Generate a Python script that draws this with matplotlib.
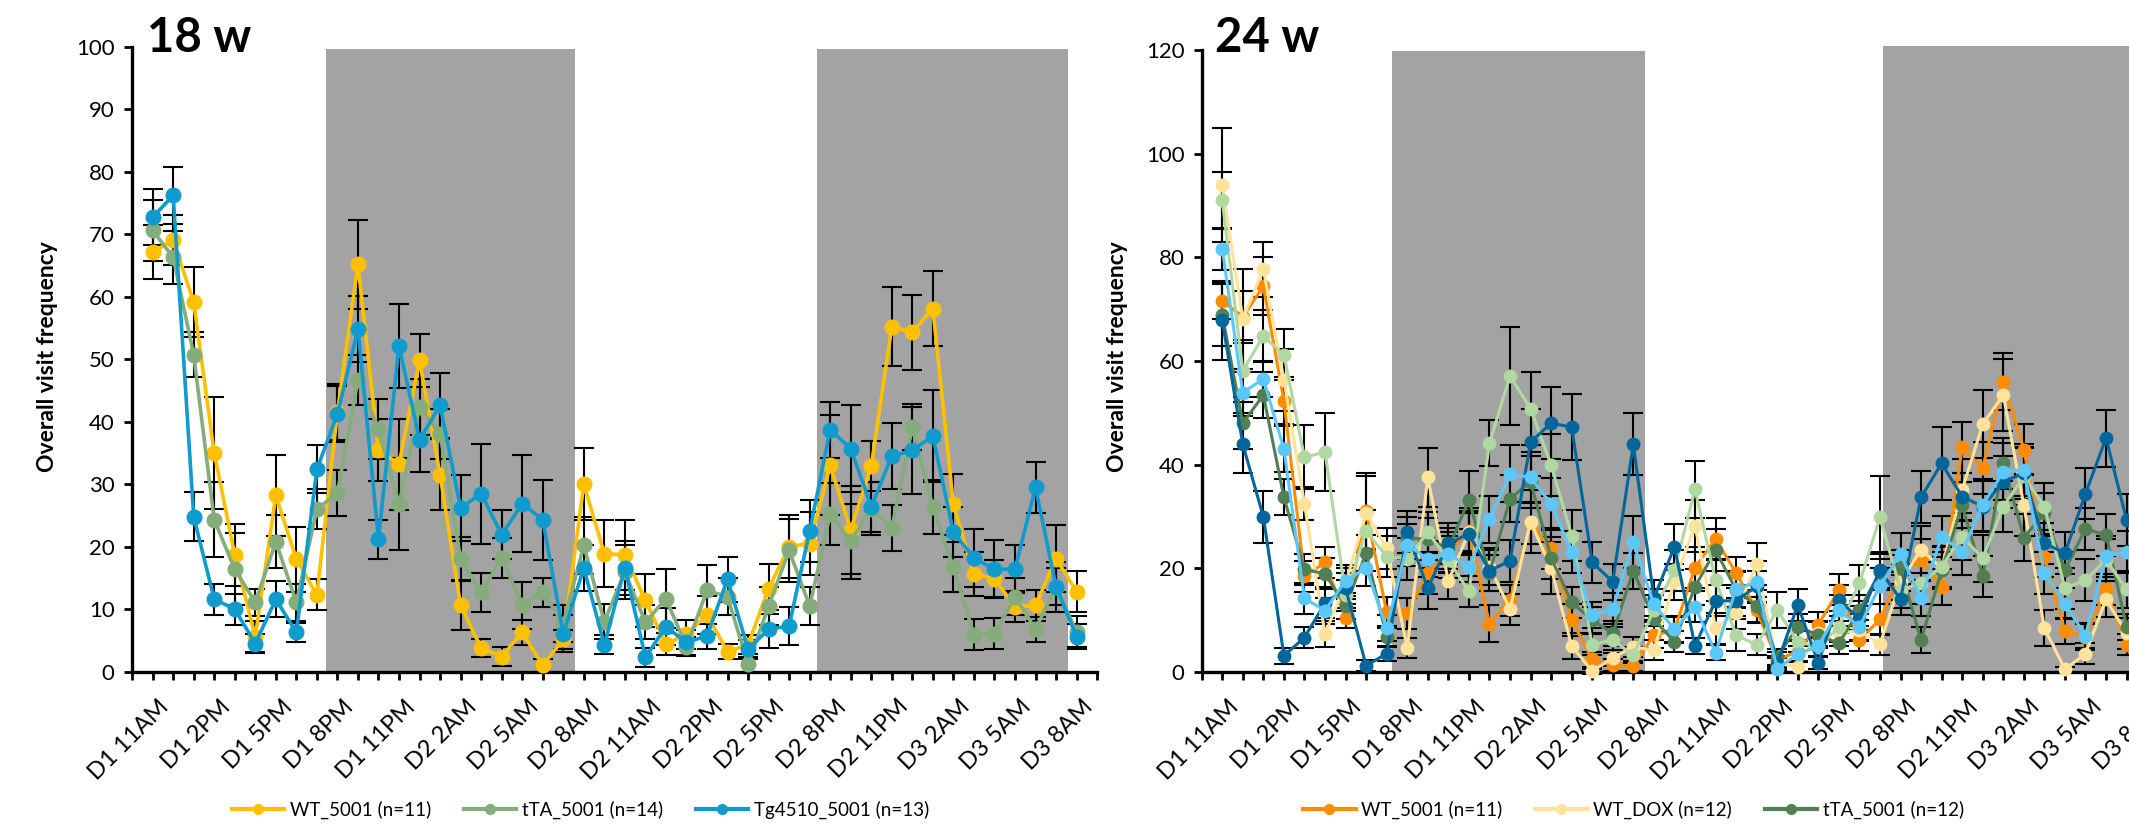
import matplotlib
matplotlib.use('Agg')
import matplotlib.pyplot as plt
import matplotlib.transforms as mtransforms
from matplotlib.patches import Rectangle
from matplotlib.lines import Line2D
import numpy as np

plt.rcParams['font.family'] = ['Lato', 'DejaVu Sans']

# hourly time points, D1 11AM ... D3 8AM
tick_labels = ['D1 11AM', 'D1 2PM', 'D1 5PM', 'D1 8PM', 'D1 11PM', 'D2 2AM', 'D2 5AM', 'D2 8AM',
               'D2 11AM', 'D2 2PM', 'D2 5PM', 'D2 8PM', 'D2 11PM', 'D3 2AM', 'D3 5AM', 'D3 8AM']
label_pos = list(range(1, 47, 3))

# ---- 18 w ----
wt18 = [67.1, 69.1, 59.1, 35.0, 18.7, 5.6, 28.2, 18.0, 12.3, 41.5, 65.2, 35.5, 33.2, 49.8, 31.5, 10.6,
        3.8, 2.4, 6.3, 1.0, 5.2, 30.0, 18.9, 18.7, 11.4, 4.4, 6.0, 9.1, 3.2, 4.3, 13.3, 20.0,
        20.5, 33.0, 22.7, 32.9, 55.2, 54.3, 58.1, 26.8, 15.6, 14.9, 10.4, 10.6, 18.1, 12.8]
wt18_err = [4.3, 4.0, 5.6, 9.0, 5.0, 2.5, 6.5, 5.2, 2.5, 4.5, 7.1, 5.0, 7.3, 4.2, 5.7, 4.0,
            1.5, 1.5, 2.0, 1.0, 1.5, 5.8, 5.4, 5.6, 4.2, 1.8, 2.3, 3.0, 1.2, 1.5, 4.0, 5.0,
            5.0, 8.0, 7.0, 4.0, 6.3, 6.0, 6.0, 4.9, 3.5, 3.0, 2.5, 2.5, 5.3, 3.3]
tta18 = [70.6, 66.3, 50.7, 24.3, 16.4, 11.1, 20.8, 11.1, 26.0, 28.6, 46.7, 38.8, 26.8, 42.3, 38.1, 18.0,
         12.7, 18.2, 10.6, 12.7, 7.7, 20.2, 8.0, 16.0, 7.9, 11.7, 4.0, 13.0, 12.0, 1.2, 10.5, 19.4,
         10.5, 25.2, 20.9, 26.1, 23.0, 39.1, 26.4, 16.7, 5.9, 6.1, 12.0, 6.8, 13.6, 6.4]
tta18_err = [4.9, 4.2, 3.6, 6.0, 5.8, 2.2, 4.2, 3.0, 3.2, 3.7, 4.0, 4.8, 7.4, 4.5, 4.0, 3.5,
             3.1, 3.2, 3.7, 2.3, 3.0, 4.5, 2.8, 4.3, 2.7, 4.7, 1.5, 4.0, 3.0, 1.2, 3.0, 5.0,
             3.0, 5.0, 6.0, 4.3, 3.7, 3.7, 4.3, 4.0, 2.5, 2.5, 3.0, 2.0, 3.0, 2.5]
tg18 = [72.7, 76.2, 24.8, 11.6, 10.0, 4.5, 11.6, 6.3, 32.4, 41.2, 54.8, 21.2, 52.1, 37.1, 42.6, 26.2,
        28.5, 21.9, 26.9, 24.3, 6.1, 16.6, 4.3, 16.6, 2.3, 7.2, 4.7, 5.7, 14.8, 3.6, 6.8, 7.3,
        22.5, 38.7, 35.7, 26.4, 34.5, 35.4, 37.7, 22.3, 18.2, 16.4, 16.4, 29.5, 13.6, 5.6]
tg18_err = [4.5, 4.5, 3.9, 2.5, 2.5, 1.5, 2.9, 1.5, 3.8, 4.5, 5.3, 3.1, 6.7, 5.2, 5.2, 5.3,
            8.0, 3.9, 7.8, 6.4, 3.0, 3.7, 1.5, 4.3, 1.5, 3.0, 2.0, 2.0, 3.6, 1.5, 3.0, 3.0,
            5.0, 4.5, 7.0, 4.0, 5.3, 7.0, 7.3, 4.0, 4.6, 4.6, 3.8, 4.1, 4.0, 2.0]

# ---- 24 w ----
wt24 = [71.6, 68.5, 74.4, 52.3, 18.4, 21.1, 10.4, 31.0, 11.5, 11.3, 19.1, 23.0, 27.2, 9.3, 13.8,
        28.7, 23.8, 10.0, 2.4, 1.3, 1.1, 7.1, 8.0, 20.1, 25.6, 19.1, 11.9, 2.3, 3.9, 9.1,
        15.8, 6.1, 10.1, 19.0, 21.6, 16.3, 43.3, 39.3, 56.0, 42.9, 22.2, 7.9, 6.8, 15.9, 5.2]
wt24_err = [3.5, 5, 5.6, 4.5, 3, 3, 2, 7.4, 3, 3, 4, 4, 4.5, 3.5, 3, 4, 4, 3, 1.5, 1.2, 1, 2.5, 2.5,
            4, 4, 3, 2.5, 1.5, 2, 2.5, 3, 2, 3, 3.5, 4, 3.5, 5, 5, 5.5, 5, 4, 2.5, 2.5, 3, 2]
wtdox24 = [93.9, 68.1, 77.7, 56.3, 32.4, 7.3, 17.0, 30.7, 23.8, 4.6, 37.5, 17.5, 27.0, 20.3, 12.1,
           29.0, 20.0, 5.0, 0.1, 2.7, 4.8, 4.2, 17.4, 28.2, 8.4, 11.3, 20.8, 1.6, 1.0, 7.4,
           7.4, 8.0, 5.3, 17.4, 23.6, 20.0, 35.1, 47.8, 53.4, 32.2, 8.4, 0.5, 3.5, 14.0, 7.4]
wtdox24_err = [11, 9.6, 5.3, 6, 3.2, 2.5, 3, 7, 4, 2, 5.6, 3.5, 4, 3.5, 3, 6, 5, 2.5, 0.5, 1.5, 2, 2,
               3.5, 5, 3, 3, 4, 1.5, 1, 2.5, 2.5, 2, 2, 3.5, 4.5, 4, 6, 6.5, 7, 6, 3.5, 0.5, 2, 3.5, 3]
tta24 = [68.9, 48.0, 53.4, 33.7, 19.8, 18.9, 12.7, 22.9, 6.8, 25.8, 25.6, 23.8, 33.2, 19.0, 33.4,
         36.7, 22.0, 13.4, 10.0, 7.4, 19.5, 10.1, 5.8, 16.4, 23.5, 15.8, 12.7, 2.9, 8.7, 7.1,
         5.5, 11.9, 19.3, 20.0, 6.1, 19.6, 32.2, 18.4, 40.2, 25.9, 30.6, 19.6, 27.6, 26.4, 8.7]
tta24_err = [6, 5, 4.5, 3.5, 3, 3, 2.5, 3.5, 2, 4, 4, 4, 5.6, 3.5, 4.5, 5, 4, 3, 2.5, 2.5, 3.5, 2.5,
             2, 3.5, 4, 3.5, 3, 1.5, 2.5, 2.5, 2, 3, 3.5, 3.5, 2.5, 3.5, 4.5, 4, 5, 4.5, 4, 3.5, 4, 4, 2.5]
ttadox24 = [91.0, 58.1, 64.8, 61.2, 41.4, 42.4, 14.8, 27.2, 22.2, 21.8, 26.9, 21.6, 15.5, 44.1, 57.1,
            50.8, 39.9, 26.3, 5.2, 6.2, 3.2, 11.9, 19.6, 35.2, 17.7, 7.1, 5.2, 11.9, 5.8, 4.8,
            8.7, 17.1, 29.8, 15.8, 17.1, 20.3, 26.1, 21.9, 31.9, 37.7, 31.9, 16.1, 17.7, 21.6, 15.9]
ttadox24_err = [5.5, 6, 5, 4.9, 6.2, 7.5, 3, 4, 4, 4, 4, 3.5, 3, 4.4, 9.4, 7, 6, 5, 2, 2.5, 1.5, 3,
                4, 5.5, 4, 3, 2, 3.5, 2, 2, 3, 3.5, 8, 3.5, 4, 4, 4.5, 4.5, 5, 5.5, 4.5, 4, 4, 4, 3.5]
tg24 = [67.8, 43.9, 29.9, 3.1, 6.6, 13.3, 16.1, 1.2, 3.5, 27.0, 16.1, 24.8, 26.6, 19.5, 21.4,
        44.3, 48.0, 47.2, 21.1, 17.4, 43.9, 14.2, 24.1, 5.0, 13.7, 13.7, 16.5, 1.6, 12.9, 1.7,
        13.8, 10.2, 19.6, 14.0, 33.7, 40.2, 33.8, 31.9, 36.7, 38.3, 24.8, 22.9, 34.4, 45.1, 29.3]
tg24_err = [7.6, 5.5, 5, 1.5, 2, 3, 3, 1, 1.5, 4, 4, 4, 4, 4, 4, 6.5, 7, 6.4, 4, 3.5, 6, 3.5, 4.5,
            1.5, 3, 3, 3, 1, 3, 1.2, 3, 2.5, 3.5, 3, 5, 7, 4.5, 5, 5, 5, 4, 4, 5, 5.5, 5]
tgdox24 = [81.6, 53.9, 56.5, 43.0, 14.2, 11.8, 17.6, 20.0, 8.4, 24.5, 21.8, 22.7, 20.3, 29.4, 38.2,
           37.5, 32.4, 23.1, 10.9, 12.2, 25.0, 13.0, 8.2, 12.6, 3.7, 16.0, 17.3, 0.6, 3.4, 5.0,
           11.9, 8.7, 16.6, 22.7, 14.2, 26.1, 23.2, 32.2, 38.6, 39.0, 19.1, 13.1, 7.0, 22.3, 23.1]
tgdox24_err = [4, 4, 3.5, 4.5, 3, 2.5, 3, 3.5, 2.5, 4, 3.5, 3.5, 3, 4.5, 5.5, 5, 5, 4, 2.5, 3, 5, 3,
               2.5, 3, 1.5, 3.5, 4, 0.6, 1.5, 2, 3, 2.5, 3.5, 4, 3.5, 4, 4.5, 5, 5.5, 5, 4, 3, 2.5, 4, 4]

GRAY = '#A3A3A3'
W, H = 2129, 826
fig = plt.figure(figsize=(W / 100, H / 100), dpi=100)
fig.patch.set_facecolor('white')

ax1 = fig.add_axes([132.1 / W, 154.3 / H, 965 / W, 625 / H])
ax2 = fig.add_axes([1201.7 / W, 154.2 / H, 966 / W, 621.8 / H])


def style_axis(ax, ymax, ystep):
    ax.set_xlim(0, 47)
    ax.set_ylim(0, ymax)
    for s in ['top', 'right']:
        ax.spines[s].set_visible(False)
    for s in ['left', 'bottom']:
        ax.spines[s].set_linewidth(2.4)
        ax.spines[s].set_color('black')
    ax.set_yticks(np.arange(0, ymax + 1, ystep))
    ax.tick_params(axis='y', length=5.5, width=2, pad=7, labelsize=16, direction='out')
    ax.set_xticks(label_pos)
    ax.set_xticklabels(tick_labels, rotation=45, ha='right', va='top',
                       rotation_mode='anchor', fontsize=17)
    ax.set_xticks(range(0, 48), minor=True)
    ax.tick_params(axis='x', which='both', length=5.5, width=2, direction='out')
    ax.tick_params(axis='x', which='major', pad=12)
    offset = mtransforms.ScaledTranslation(5.5 / 100, 0, fig.dpi_scale_trans)
    for lab in ax.get_xticklabels():
        lab.set_transform(lab.get_transform() + offset)


def night(ax, x0, x1, top):
    ax.add_patch(Rectangle((x0, 0), x1 - x0, top, facecolor=GRAY, edgecolor='none',
                           zorder=0.5, clip_on=False))


style_axis(ax1, 100, 10)
style_axis(ax2, 120, 20)

night(ax1, 9.45, 21.56, 99.7)
night(ax1, 33.35, 45.56, 99.7)
night(ax2, 9.26, 21.57, 119.8)
night(ax2, 33.15, 47.5, 120.7)

x18 = np.arange(1, len(wt18) + 1)
series18 = [(wt18, wt18_err, '#FFC000', 'WT_5001 (n=11)'),
            (tta18, tta18_err, '#84AD7B', 'tTA_5001 (n=14)'),
            (tg18, tg18_err, '#0F9BCE', 'Tg4510_5001 (n=13)')]
for vals, errs, col, lab in series18:
    ax1.errorbar(x18, vals, yerr=errs, color=col, lw=2.6, marker='o', ms=10.5, mec=col,
                 ecolor='black', elinewidth=1.5, capsize=7.5, capthick=1.5, zorder=3, clip_on=False)

x24 = np.arange(1, len(wt24) + 1)
series24 = [(wt24, wt24_err, '#FF8C00', 'WT_5001 (n=11)'),
            (wtdox24, wtdox24_err, '#FFE39B', 'WT_DOX (n=12)'),
            (tta24, tta24_err, '#4F7F53', 'tTA_5001 (n=12)'),
            (ttadox24, ttadox24_err, '#B2D8A2', 'tTA_DOX'),
            (tg24, tg24_err, '#00669C', 'Tg4510_5001'),
            (tgdox24, tgdox24_err, '#5CC7FA', 'Tg4510_DOX')]
for vals, errs, col, lab in series24:
    ax2.errorbar(x24, vals, yerr=errs, color=col, lw=2.2, marker='o', ms=9, mec=col,
                 ecolor='black', elinewidth=1.5, capsize=7, capthick=1.5, zorder=3, clip_on=False)

# titles and axis labels
fig.text(147 / W, 774 / H, '18 w', fontsize=34, fontweight='bold', ha='left', va='baseline')
fig.text(1215 / W, 774 / H, '24 w', fontsize=34, fontweight='bold', ha='left', va='baseline')
fig.text(47 / W, 0.568, 'Overall visit frequency', fontsize=16.5, fontweight='bold',
         rotation=90, ha='center', va='center')
fig.text(1117 / W, 0.568, 'Overall visit frequency', fontsize=16.5, fontweight='bold',
         rotation=90, ha='center', va='center')

# legends
def legend(handles_src, x_left):
    handles = [Line2D([], [], color=c, lw=3, marker='o', ms=7, mec=c) for _, _, c, _ in handles_src]
    labels = [l for _, _, _, l in handles_src]
    fig.legend(handles, labels, loc='center left', bbox_to_anchor=(x_left / W, 16 / H), ncol=3,
               frameon=False, fontsize=13.5, handlelength=2.8, handletextpad=0.3,
               columnspacing=1.75, borderpad=0, borderaxespad=0)

legend(series18, 231.7)
legend(series24[:3], 1303)

fig.savefig('out.png', dpi=100, facecolor='white')
